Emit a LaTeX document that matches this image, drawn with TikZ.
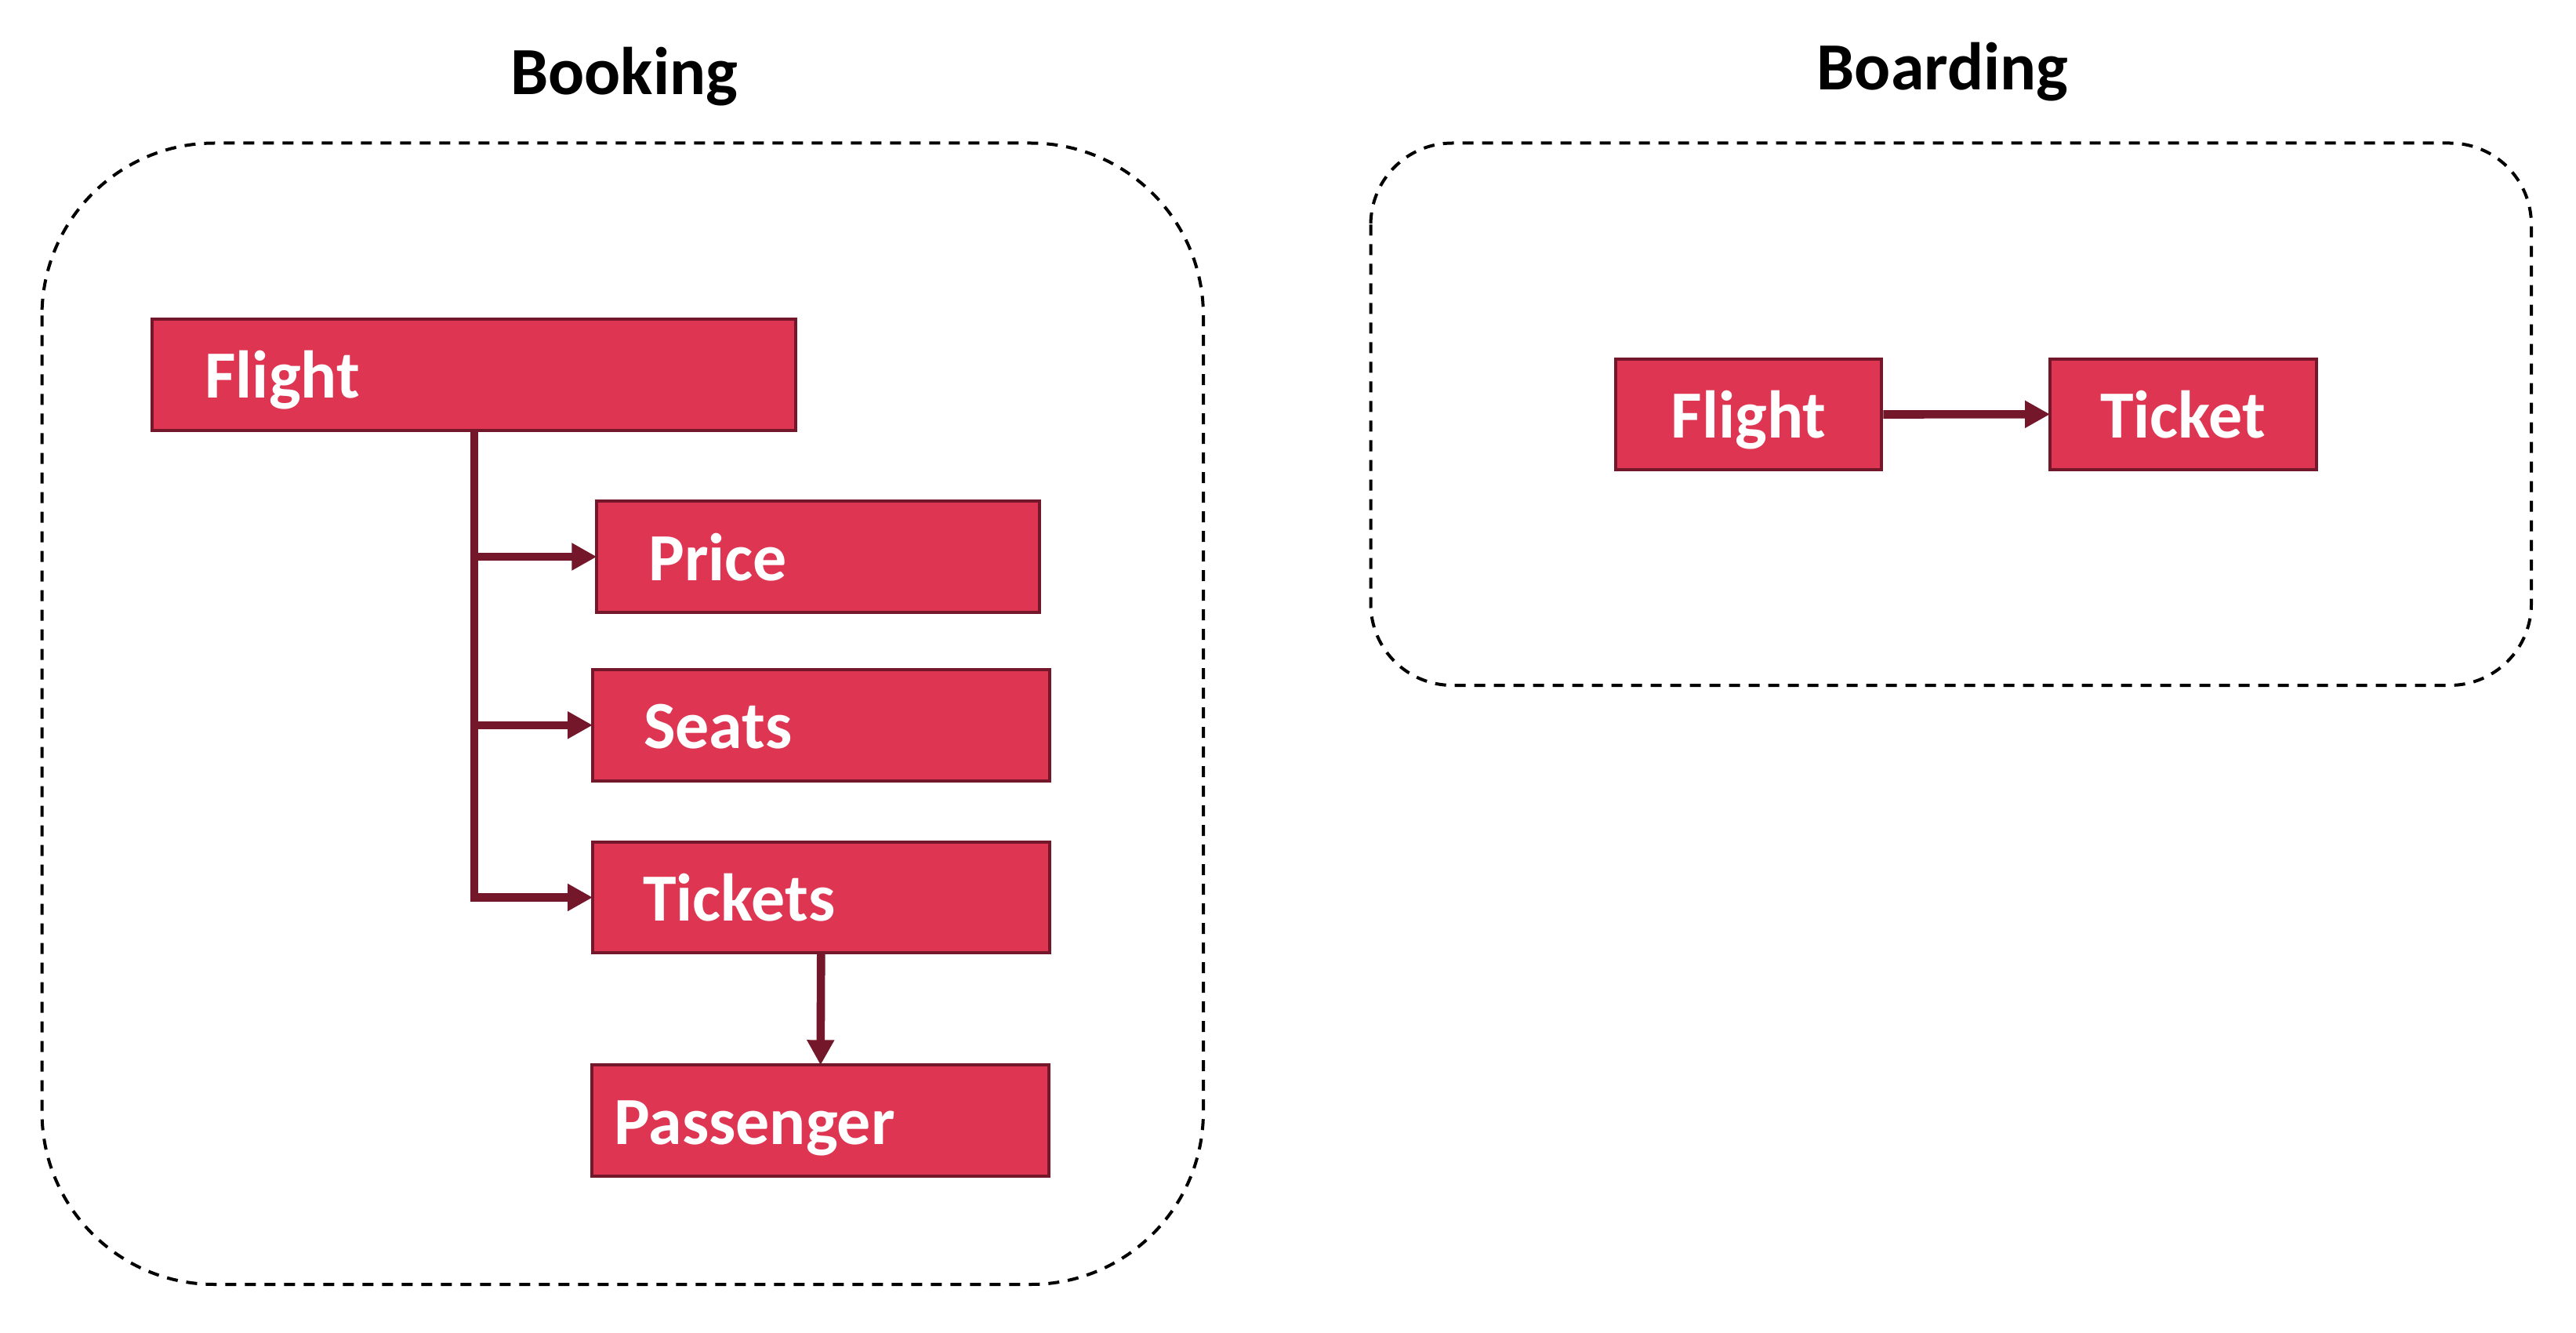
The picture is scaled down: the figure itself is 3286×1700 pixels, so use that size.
\documentclass[tikz,border=0pt]{standalone}
\usepackage{fontspec}
\setmainfont{Carlito}
\usetikzlibrary{arrows.meta}
\definecolor{boxred}{HTML}{DE3553}
\definecolor{darkred}{HTML}{74172B}
\tikzset{
  ent/.style={draw=darkred, fill=boxred, line width=2pt, minimum height=70.7pt,
    text=white, font=\fontsize{43}{50}\selectfont\bfseries,
    text height=30pt, text depth=0pt, inner ysep=0pt},
  leftent/.style 2 args={ent, inner xsep=#2, text width=#1-2*#2, align=left},
  centent/.style={ent, minimum width=#1, inner xsep=0pt, align=center},
  conn/.style={draw=darkred, line width=5.3pt, shorten >=-1pt,
    -{Triangle[length=16pt,width=16.5pt]}},
  group/.style={draw=black, line width=2pt, dash pattern=on 7pt off 5.5pt},
  grouptitle/.style={font=\fontsize{43}{50}\selectfont\bfseries, text=black,
    anchor=base, inner sep=0pt}
}
\begin{document}
\begin{tikzpicture}[x=0.5pt, y=-0.5pt]
\useasboundingbox (0,0) rectangle (3286,1700);
% groups
\draw[group, rounded corners=110pt] (53.5,182.5) rectangle (1535,1638);
\draw[group, rounded corners=52pt] (1748.5,182.5) rectangle (3229,874);
\node[grouptitle] (tbook) at (796,120.3) {Booking};
\node[grouptitle] (tboard) at (2478,114.8) {Boarding};
% booking entities
\node[leftent={410.5pt}{33.5pt}] (flight) at (604.8,478) {Flight};
\node[leftent={282.2pt}{33pt}] (price) at (1043.5,710) {Price};
\node[leftent={291.3pt}{32.5pt}] (seats) at (1047.3,924.8) {Seats};
\node[leftent={291.3pt}{32pt}] (tickets) at (1047.3,1144.5) {Tickets};
\node[leftent={291.3pt}{14pt}] (passenger) at (1046.7,1429) {Passenger};
% boarding entities
\node[centent=169.8pt] (bflight) at (2230.5,528.5) {Flight};
\node[centent=169.8pt] (bticket) at (2784.8,528.3) {Ticket};
% connectors
\draw[conn] (flight.south) |- (price.west);
\draw[conn] (flight.south) |- (seats.west);
\draw[conn] (flight.south) |- (tickets.west);
\draw[conn] (tickets.south) -- (passenger.north);
\draw[conn] (bflight.east) -- (bticket.west);
\end{tikzpicture}
\end{document}
